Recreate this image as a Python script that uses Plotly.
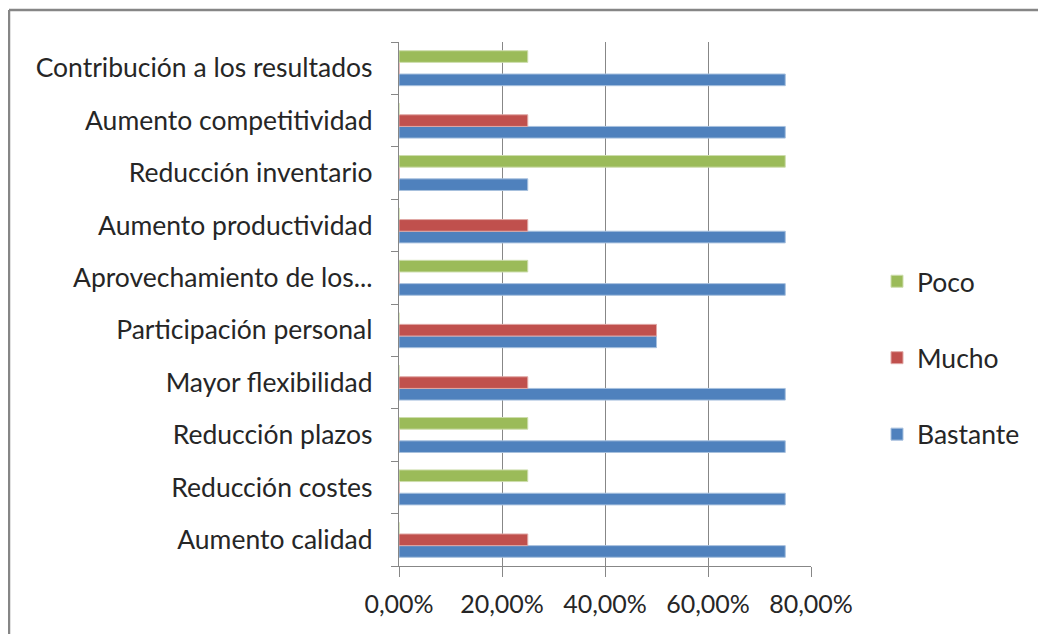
import plotly.graph_objects as go

categories = [
    "Aumento calidad",
    "Reducción costes",
    "Reducción plazos",
    "Mayor flexibilidad",
    "Participación personal",
    "Aprovechamiento de los...",
    "Aumento productividad",
    "Reducción inventario",
    "Aumento competitividad",
    "Contribución a los resultados",
]
bastante = [0.75, 0.75, 0.75, 0.75, 0.50, 0.75, 0.75, 0.25, 0.75, 0.75]
mucho = [0.25, 0.0, 0.0, 0.25, 0.50, 0.0, 0.25, 0.0, 0.25, 0.0]
poco = [0.0, 0.25, 0.25, 0.0, 0.0, 0.25, 0.0, 0.75, 0.0, 0.25]

x_ticks = [0, 0.2, 0.4, 0.6, 0.8]

series = [
    ("Bastante", bastante, "#4F81BD", "#A7C0DE", 3),
    ("Mucho", mucho, "#C0504D", "#E0A8A6", 2),
    ("Poco", poco, "#9BBB59", "#CDDDAC", 1),
]

FONT = "Lato"
TXT = "#262626"
OFF = 8  # page body margin offset

fig = go.Figure()
for name, vals, col, edge, rank in series:
    fig.add_trace(go.Bar(
        y=categories, x=vals, name=name, orientation="h",
        marker=dict(color=col, line=dict(color=edge, width=1)),
        legendgroup=name, legendrank=rank,
    ))

W, H = 1046 - OFF, 634 - OFF
L, T = 399 - OFF, 42 - OFF
R = W - (811 - OFF)
B = H - (566 - OFF)
pw, ph = W - L - R, H - T - B


def px_x(p):
    return (p - OFF - L) / pw


def px_y(p):
    return ((566 - OFF) - (p - OFF)) / ph


fig.update_layout(
    width=W, height=H,
    margin=dict(l=L, r=R, t=T, b=B, pad=0),
    paper_bgcolor="white", plot_bgcolor="white",
    barmode="group", bargap=0.333, bargroupgap=0,
    separators=",.",
    font=dict(family=FONT, size=26.5, color=TXT),
    showlegend=True,
    legend=dict(
        x=px_x(877), xanchor="left",
        y=px_y(358), yanchor="middle",
        traceorder="grouped",
        tracegroupgap=39,
        font=dict(family=FONT, size=26.5, color=TXT),
        bgcolor="rgba(0,0,0,0)",
    ),
    xaxis=dict(
        range=[0, 0.8], tickvals=x_ticks, tickformat=".2%",
        tickfont=dict(family=FONT, size=25, color=TXT),
        showgrid=True, gridcolor="#878787", gridwidth=1.3,
        showline=True, linecolor="#878787", linewidth=1.3,
        ticks="outside", ticklen=10, tickcolor="#878787", tickwidth=1.3,
        ticklabelstandoff=6,
        zeroline=False, fixedrange=True,
    ),
    yaxis=dict(
        type="category", categoryorder="array", categoryarray=categories,
        tickfont=dict(family=FONT, size=26.5, color=TXT),
        showgrid=False,
        showline=True, linecolor="#878787", linewidth=1.3,
        ticks="outside", ticklen=7, tickcolor="#878787", tickwidth=1.3,
        tickson="boundaries",
        ticklabelstandoff=20,
        fixedrange=True,
    ),
)

# outer chart border (left and top visible)
fig.add_shape(type="line", xref="paper", yref="paper",
              x0=px_x(9), x1=px_x(1060), y0=px_y(10), y1=px_y(10),
              line=dict(color="#868686", width=2.5))
fig.add_shape(type="line", xref="paper", yref="paper",
              x0=px_x(9), x1=px_x(9), y0=px_y(10), y1=px_y(650),
              line=dict(color="#868686", width=2.5))

fig.write_html("out.html")
